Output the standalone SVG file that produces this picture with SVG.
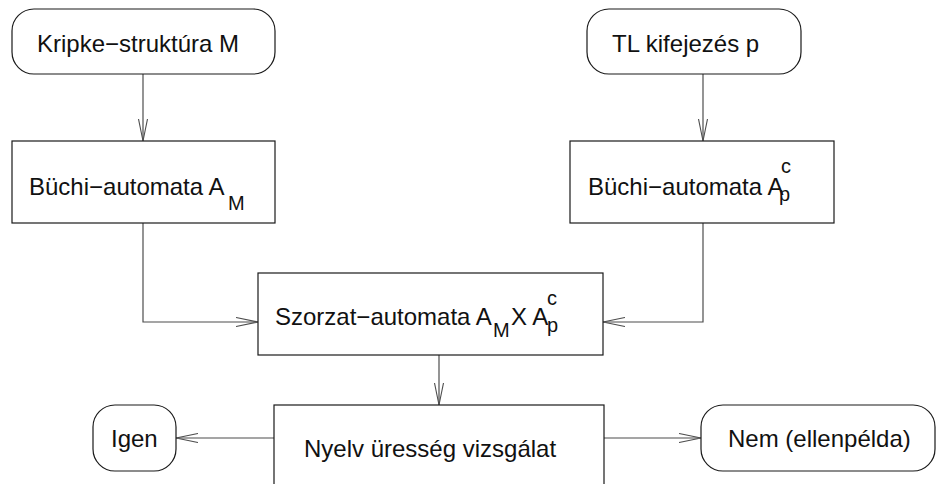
<svg xmlns="http://www.w3.org/2000/svg" width="936" height="484" viewBox="0 0 936 484">
  <style>
    .box { fill: #ffffff; stroke: #1a1a1a; stroke-width: 1.2; }
    .edge { fill: none; stroke: #4d4d4d; stroke-width: 1.2; }
    .lbl { font-family: "Liberation Sans", Arial, sans-serif; font-size: 24px; fill: #111111; }
    .idx { font-size: 20px; }
  </style>
  <defs>
    <marker id="arrow" markerUnits="userSpaceOnUse" viewBox="0 0 24 10" refX="22" refY="5" markerWidth="24" markerHeight="10" orient="auto">
      <path d="M0,0.5 L22,5 L0,9.5" fill="none" stroke="#4d4d4d" stroke-width="1.1"/>
    </marker>
  </defs>
  <rect width="936" height="484" fill="#ffffff"/>

  <g id="connectors">
    <path class="edge" d="M143,74 V141" marker-end="url(#arrow)"/>
    <path class="edge" d="M703,74 V141" marker-end="url(#arrow)"/>
    <path class="edge" d="M143,223 V322 H258" marker-end="url(#arrow)"/>
    <path class="edge" d="M703,223 V322 H603" marker-end="url(#arrow)"/>
    <path class="edge" d="M439,355 V405" marker-end="url(#arrow)"/>
    <path class="edge" d="M274,438 H176" marker-end="url(#arrow)"/>
    <path class="edge" d="M604,438 H701" marker-end="url(#arrow)"/>
  </g>

  <g id="kripke">
    <rect class="box" x="12" y="9" width="263" height="65" rx="22"/>
    <text class="lbl" x="37" y="52">Kripke−struktúra M</text>
  </g>

  <g id="tl">
    <rect class="box" x="587" y="9" width="214" height="65" rx="22"/>
    <text class="lbl" x="612" y="52">TL kifejezés p</text>
  </g>

  <g id="buchi-m">
    <rect class="box" x="12" y="141" width="263" height="82"/>
    <text class="lbl" x="29" y="195">Büchi−automata A<tspan class="idx" x="228" y="210">M</tspan></text>
  </g>

  <g id="buchi-p">
    <rect class="box" x="570" y="141" width="264" height="82"/>
    <text class="lbl" x="588" y="195">Büchi−automata A<tspan class="idx" x="781" y="173">c</tspan><tspan class="idx" x="779" y="201">p</tspan></text>
  </g>

  <g id="product">
    <rect class="box" x="258" y="273" width="345" height="82"/>
    <text class="lbl" x="275" y="325">Szorzat−automata A<tspan class="idx" x="493" y="337">M</tspan><tspan x="511" y="325">X A</tspan><tspan class="idx" x="547" y="305">c</tspan><tspan class="idx" x="547" y="332">p</tspan></text>
  </g>

  <g id="emptiness">
    <rect class="box" x="274" y="405" width="330" height="100"/>
    <text class="lbl" x="304" y="457">Nyelv üresség vizsgálat</text>
  </g>

  <g id="yes">
    <rect class="box" x="93" y="405" width="83" height="66" rx="22"/>
    <text class="lbl" x="111" y="447">Igen</text>
  </g>

  <g id="no">
    <rect class="box" x="701" y="405" width="234" height="66" rx="22"/>
    <text class="lbl" x="728" y="447">Nem (ellenpélda)</text>
  </g>
</svg>
